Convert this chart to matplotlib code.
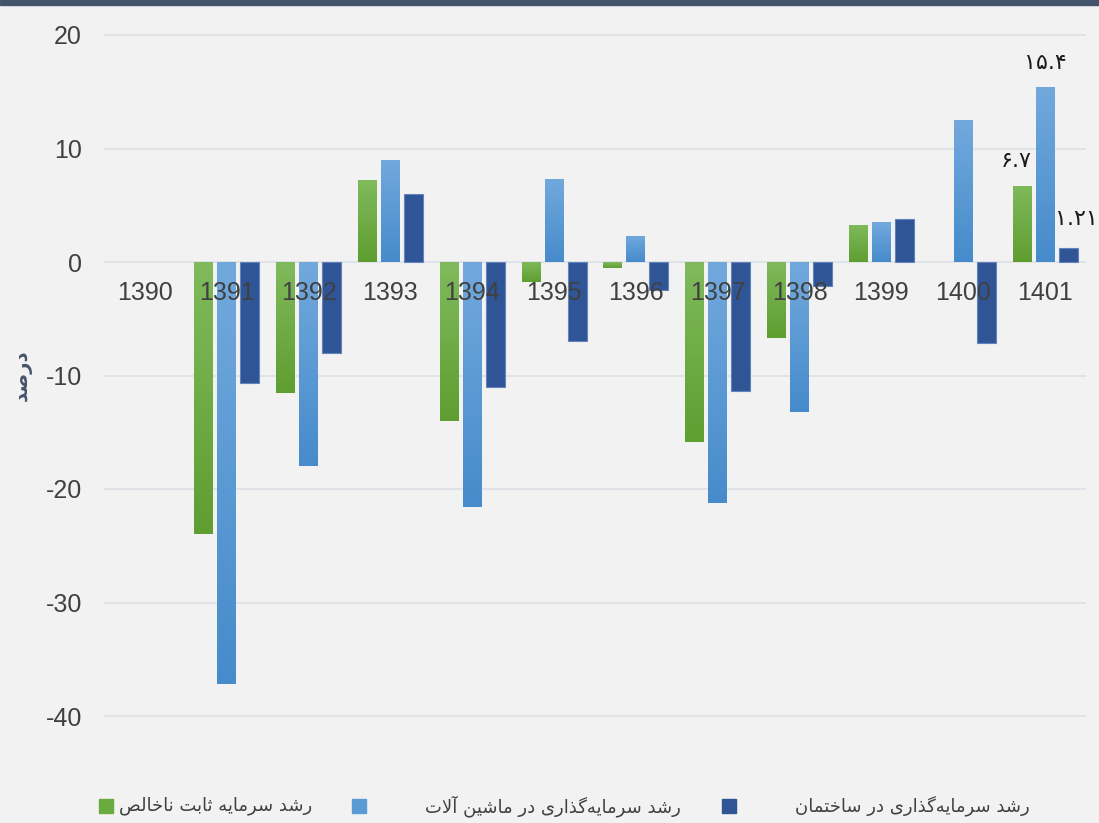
import matplotlib.pyplot as plt
import numpy as np
from matplotlib.colors import LinearSegmentedColormap
from matplotlib.patches import Rectangle

# data (percent)
years = ['1390', '1391', '1392', '1393', '1394', '1395', '1396',
         '1397', '1398', '1399', '1400', '1401']
gross_fixed = [np.nan, -24.0, -11.5, 7.2, -14.0, -1.8, -0.5, -15.9, -6.7, 3.3, 0.0, 6.7]
machinery = [np.nan, -37.2, -18.0, 9.0, -21.6, 7.3, 2.3, -21.2, -13.2, 3.5, 12.5, 15.4]
building = [np.nan, -10.7, -8.0, 6.0, -11.0, -7.0, -2.5, -11.4, -2.1, 3.8, -7.1, 1.21]

series_names = ['رشد سرمایه ثابت ناخالص',
                'رشد سرمایه‌گذاری در ماشین آلات',
                'رشد سرمایه‌گذاری در ساختمان']
ylabel = 'درصد'
yticks = [-40, -30, -20, -10, 0, 10, 20]

# --- tiny persian shaper (matplotlib has no bidi / joining) ---
FORMS = {  # isolated, final, initial, medial
    'ا': ('\uFE8D', '\uFE8E', None, None),
    'آ': ('\uFE81', '\uFE82', None, None),
    'ب': ('\uFE8F', '\uFE90', '\uFE91', '\uFE92'),
    'ت': ('\uFE95', '\uFE96', '\uFE97', '\uFE98'),
    'ث': ('\uFE99', '\uFE9A', '\uFE9B', '\uFE9C'),
    'خ': ('\uFEA5', '\uFEA6', '\uFEA7', '\uFEA8'),
    'د': ('\uFEA9', '\uFEAA', None, None),
    'ذ': ('\uFEAB', '\uFEAC', None, None),
    'ر': ('\uFEAD', '\uFEAE', None, None),
    'ز': ('\uFEAF', '\uFEB0', None, None),
    'س': ('\uFEB1', '\uFEB2', '\uFEB3', '\uFEB4'),
    'ش': ('\uFEB5', '\uFEB6', '\uFEB7', '\uFEB8'),
    'ص': ('\uFEB9', '\uFEBA', '\uFEBB', '\uFEBC'),
    'ل': ('\uFEDD', '\uFEDE', '\uFEDF', '\uFEE0'),
    'م': ('\uFEE1', '\uFEE2', '\uFEE3', '\uFEE4'),
    'ن': ('\uFEE5', '\uFEE6', '\uFEE7', '\uFEE8'),
    'ه': ('\uFEE9', '\uFEEA', '\uFEEB', '\uFEEC'),
    'ی': ('\uFBFC', '\uFBFD', '\uFBFE', '\uFBFF'),
    'گ': ('\uFB92', '\uFB93', '\uFB94', '\uFB95'),
}
LAM_ALEF = {'ا': ('\uFEFB', '\uFEFC'), 'آ': ('\uFEF5', '\uFEF6')}


def joins_left(c):
    return c in FORMS and FORMS[c][2] is not None


def shape(text):
    out = []
    i = 0
    n = len(text)
    while i < n:
        c = text[i]
        if c not in FORMS:
            if c != '\u200c':
                out.append(c)
            i += 1
            continue
        prev = text[i - 1] if i > 0 else ''
        nxt = text[i + 1] if i + 1 < n else ''
        p = joins_left(prev)
        if c == 'ل' and nxt in LAM_ALEF:
            out.append(LAM_ALEF[nxt][1] if p else LAM_ALEF[nxt][0])
            i += 2
            continue
        nx = joins_left(c) and nxt in FORMS
        iso, fin, ini, med = FORMS[c]
        if p and nx:
            out.append(med)
        elif p:
            out.append(fin)
        elif nx:
            out.append(ini)
        else:
            out.append(iso)
        i += 1
    return ''.join(reversed(out))


def fa_digits(v):
    return str(v).translate(str.maketrans('0123456789', '۰۱۲۳۴۵۶۷۸۹'))


def gradient_bars(ax, bars, top, bottom):
    cmap = LinearSegmentedColormap.from_list('g', [top, bottom])
    grad = np.linspace(0, 1, 256).reshape(-1, 1)
    for b in bars:
        h = b.get_height()
        if np.isnan(h) or h == 0:
            continue
        x0, y0, w = b.get_x(), b.get_y(), b.get_width()
        lo, hi = min(y0, y0 + h), max(y0, y0 + h)
        im = ax.imshow(grad, cmap=cmap, extent=[x0, x0 + w, lo, hi],
                       origin='upper', aspect='auto', zorder=3)
        im.set_clip_path(b)


bg = '#f2f2f2'
fig = plt.figure(figsize=(10.99, 8.23), dpi=100, facecolor=bg)
ax = fig.add_axes([104 / 1099, 1 - 727.35 / 823, 982 / 1099, (727.35 - 23.65) / 823])
ax.set_facecolor(bg)

x = np.arange(len(years))
w = 0.232
off = 0.281
b1 = ax.bar(x - off, gross_fixed, w, color='#6fad45', zorder=2)
b2 = ax.bar(x, machinery, w, color='#5b9bd5', zorder=2)
b3 = ax.bar(x + off, building, w, color='#2f5597', edgecolor='#6383bd',
            linewidth=0.8, zorder=3)
gradient_bars(ax, b1, '#80ba5c', '#5f9e31')
gradient_bars(ax, b2, '#72a9dd', '#468bcb')

# category labels sit on the zero line
for xi, yr in zip(x, years):
    ax.text(xi, -2.75, yr, ha='center', va='center', fontsize=18,
            family='Liberation Sans', color='#404040', zorder=6)

# data labels on the last year
last = len(years) - 1
for vals, dx, dy in [(gross_fixed, -off - 0.07, 25), (machinery, 0, 24), (building, off + 0.1, 29)]:
    ax.annotate(fa_digits(vals[last]), (x[last] + dx, vals[last]),
                xytext=(0, dy), textcoords='offset pixels',
                ha='center', va='center', fontsize=16, family='DejaVu Sans',
                color='#1a1a1a', zorder=6)

ax.set_xlim(-0.5, len(years) - 0.5)
ax.set_ylim(-41, 21)
ax.set_yticks(yticks)
ax.set_yticklabels([str(t) for t in yticks], family='Liberation Sans',
                   fontsize=18, color='#404040')
ax.set_xticks([])
ax.tick_params(axis='y', length=0, pad=16)
ax.grid(axis='y', color='#dde2e8', linewidth=1.3, zorder=0)
ax.set_axisbelow(True)
for s in ax.spines.values():
    s.set_visible(False)

fig.text(22 / 1099, 1 - 375 / 823, shape(ylabel), rotation=90, ha='center', va='center',
         fontsize=14, fontweight='bold', color='#44546a', family='DejaVu Sans')

# top strip
fig.add_artist(Rectangle((0, 1 - 5 / 823), 1, 5 / 823, transform=fig.transFigure,
                         color='#44546a', zorder=10))

# legend
leg_colors = ['#6aab3f', '#5b9bd5', '#2f5597']
sq_x = [99, 352, 722]
txt_cx = [216, 553, 912]
for name, col, sx, tx in zip(series_names, leg_colors, sq_x, txt_cx):
    fig.add_artist(Rectangle((sx / 1099, 1 - 813 / 823), 14 / 1099, 14 / 823,
                             transform=fig.transFigure, color=col))
    fig.text(tx / 1099, 1 - 806 / 823, shape(name), ha='center', va='center',
             fontsize=13, color='#404040', family='DejaVu Sans')

fig.savefig('out.png', dpi=100, facecolor=bg)
